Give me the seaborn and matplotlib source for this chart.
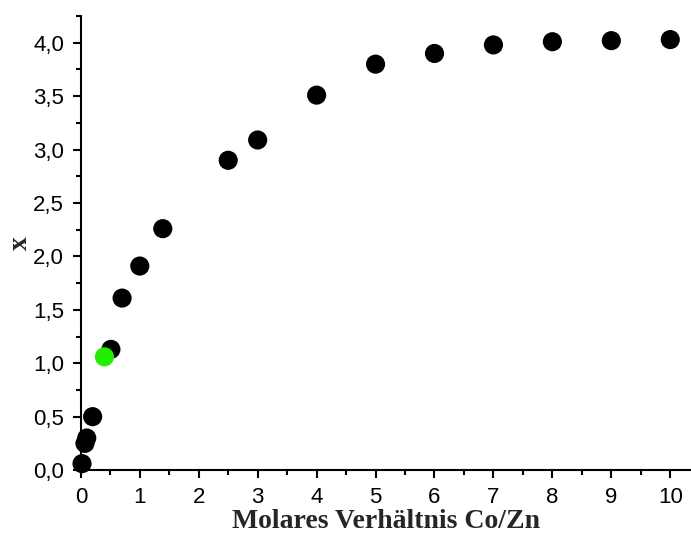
import matplotlib
matplotlib.use("Agg")
import matplotlib.pyplot as plt
from matplotlib.ticker import MultipleLocator, FuncFormatter
import seaborn as sns
import pandas as pd

# Molar ratio Co/Zn and the resulting x
ratio = [0.02, 0.07, 0.10, 0.20, 0.51, 0.70, 1.00, 1.39, 2.50, 3.00, 4.00, 5.00, 6.00, 7.00, 8.00, 9.00, 10.00]
x_val = [0.06, 0.25, 0.30, 0.50, 1.13, 1.61, 1.91, 2.26, 2.90, 3.09, 3.51, 3.80, 3.90, 3.98, 4.01, 4.02, 4.03]

# Highlighted sample
hl_ratio = [0.40]
hl_x = [1.06]

df = pd.DataFrame({"ratio": ratio + hl_ratio, "x": x_val + hl_x,
                   "group": ["series"] * len(ratio) + ["highlight"] * len(hl_ratio)})

sns.set_theme(style="ticks")
plt.rcParams["font.family"] = ["Liberation Sans", "DejaVu Sans"]

fig = plt.figure(figsize=(6.91, 5.36), dpi=100)
ax = fig.add_axes([0.117, 0.123, 0.882, 0.847])

sns.scatterplot(data=df, x="ratio", y="x", hue="group",
                palette={"series": "black", "highlight": "#22ee00"},
                s=190, edgecolor="none", legend=False, ax=ax, zorder=3, clip_on=False)

ax.set_xlim(0, 10.34)
ax.set_ylim(0, 4.25)
ax.xaxis.set_major_locator(MultipleLocator(1))
ax.xaxis.set_minor_locator(MultipleLocator(0.5))
ax.yaxis.set_major_locator(MultipleLocator(0.5))
ax.yaxis.set_minor_locator(MultipleLocator(0.25))
ax.yaxis.set_major_formatter(FuncFormatter(lambda v, p: f"{v:.1f}".replace(".", ",")))

ax.tick_params(axis="both", which="major", direction="out", length=6, width=1.5,
               labelsize=16, color="black", labelcolor="black", pad=6)
ax.tick_params(axis="both", which="minor", direction="out", length=3.5, width=1.5, color="black")

for side in ["top", "right"]:
    ax.spines[side].set_visible(False)
for side in ["left", "bottom"]:
    ax.spines[side].set_linewidth(1.5)
    ax.spines[side].set_color("black")

ax.set_xlabel("Molares Verhältnis Co/Zn", fontfamily="Liberation Serif",
              fontweight="bold", fontsize=20, labelpad=1)
ax.set_ylabel("x", fontfamily="Liberation Serif", fontweight="bold", fontsize=20, labelpad=0)

fig.savefig("out.png", dpi=100, facecolor="white")
